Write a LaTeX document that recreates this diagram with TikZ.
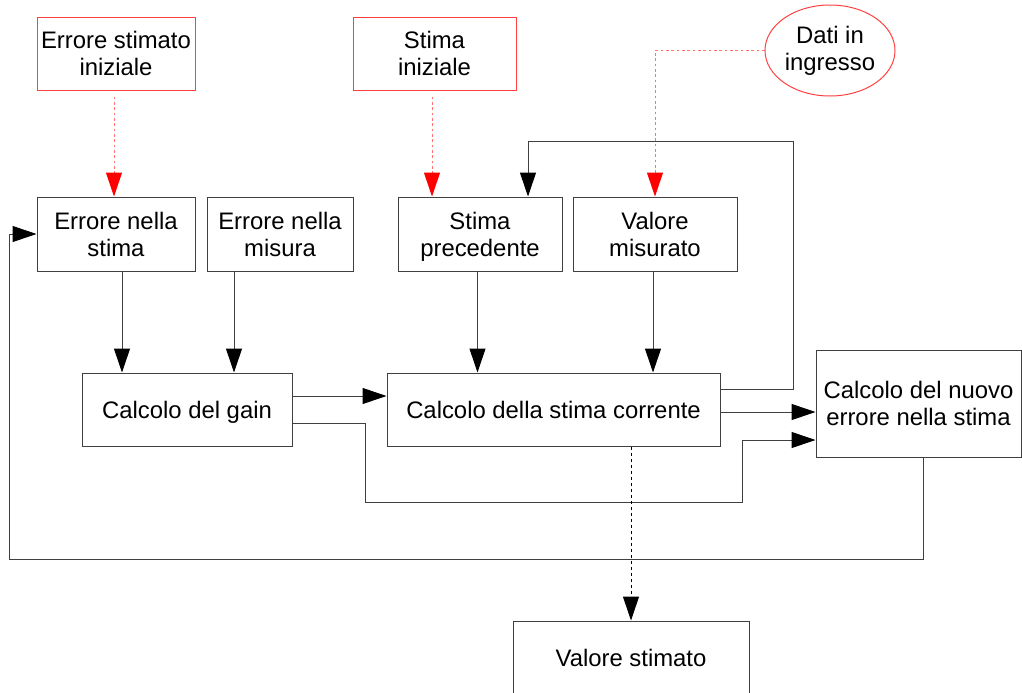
\documentclass[tikz,border=0pt]{standalone}
\usepackage{fontspec}
\setmainfont{Liberation Sans}
\usetikzlibrary{arrows.meta,shapes.geometric,calc}
\newdimen\pxu
\pxu=0.75pt
\definecolor{lineg}{HTML}{404040}
\definecolor{redbox}{HTML}{FF4040}
\definecolor{reddash}{HTML}{FF7070}
\begin{document}
\begin{tikzpicture}[x=0.75pt,y=-0.75pt,
  font=\fontsize{17.9pt}{20.25pt}\selectfont,
  box/.style={draw=lineg, line width=0.75pt, rectangle, inner sep=0pt, align=center, minimum height=73\pxu},
  redbox/.style={box, draw=redbox},
  arr/.style={draw=lineg, line width=0.75pt, -{Triangle[length=18pt,width=12pt,fill=black,color=black]}},
  redarr/.style={draw=reddash, line width=0.75pt, dash pattern=on 2pt off 2pt, -{Triangle[length=18pt,width=12pt,fill=red,color=red]}},
  dotarr/.style={draw=black, line width=0.75pt, dash pattern=on 2.5pt off 2pt, -{Triangle[length=18pt,width=12pt,fill=black,color=black]}}]
\useasboundingbox (0,0) rectangle (1022,693);
% nodes
\node[redbox, minimum width=158\pxu] (eis) at (116,53.5) {Errore stimato\\iniziale};
\node[redbox, minimum width=163\pxu] (si) at (434.5,53.5) {Stima\\iniziale};
\node[draw=redbox, line width=0.75pt, ellipse, inner sep=0pt, minimum width=130\pxu, minimum height=91\pxu, align=center] (dati) at (830,50.5) {Dati in\\ingresso};
\node[box, minimum width=158\pxu, minimum height=74\pxu] (ens) at (116,234) {Errore nella\\stima};
\node[box, minimum width=146\pxu, minimum height=74\pxu] (enm) at (280,234) {Errore nella\\misura};
\node[box, minimum width=164\pxu, minimum height=74\pxu] (sp) at (480,234) {Stima\\\smash{precedente}};
\node[box, minimum width=164\pxu, minimum height=74\pxu] (vm) at (655,234) {Valore\\misurato};
\node[box, minimum width=210\pxu] (cg) at (187,409.5) {Calcolo del \smash{gain}};
\node[box, minimum width=333\pxu] (csc) at (553.5,409.5) {Calcolo della stima corrente};
\node[box, minimum width=205\pxu, minimum height=107\pxu] (cne) at (918.5,403.5) {Calcolo del nuovo\\errore nella stima};
\node[box, minimum width=236\pxu, minimum height=74\pxu] (vs) at (631,658) {Valore stimato};
\coordinate (fb) at (793,141);
\coordinate (g1) at (365,502);
\coordinate (g2) at (742,502);
\coordinate (l1) at (9,559);
% red dashed connectors
\draw[redarr] ([xshift=-2\pxu,yshift=-6\pxu]eis.south) -- ([xshift=-2\pxu]eis.south |- ens.north);
\draw[redarr] ([xshift=-2.5\pxu,yshift=-6\pxu]si.south) -- ([xshift=-2.5\pxu]si.south |- sp.north);
\draw[redarr] (dati.west) -| (vm.north);
% feedback to stima precedente
\draw[arr] ([yshift=20.5\pxu]csc.east) -| (fb) -| ([xshift=48\pxu]sp.north);
% into calcolo del gain
\draw[arr] ([xshift=6\pxu]ens.south) -- ([xshift=6\pxu]ens.south |- cg.north);
\draw[arr] ([xshift=-46\pxu]enm.south) -- ([xshift=-46\pxu]enm.south |- cg.north);
% into calcolo della stima corrente
\draw[arr] ([xshift=-2.5\pxu]sp.south) -- ([xshift=-2.5\pxu]sp.south |- csc.north);
\draw[arr] ([xshift=-2\pxu]vm.south) -- ([xshift=-2\pxu]vm.south |- csc.north);
\draw[arr] ([yshift=13.5\pxu]cg.east) -- ([yshift=13.5\pxu]cg.east -| csc.west);
% into calcolo del nuovo errore
\draw[arr] ([yshift=-13.5\pxu]cg.east) -| (g1) -- (g2) |- ([yshift=-36.5\pxu]cne.west);
\draw[arr] ([yshift=-2.5\pxu]csc.east) -- ([yshift=-2.5\pxu]csc.east -| cne.west);
% back to errore nella stima
\draw[arr] ([xshift=4.5\pxu]cne.south) |- (l1) |- (ens.west);
% to valore stimato
\draw[dotarr] (csc.south -| vs.north) -- (vs.north);
\end{tikzpicture}
\end{document}
